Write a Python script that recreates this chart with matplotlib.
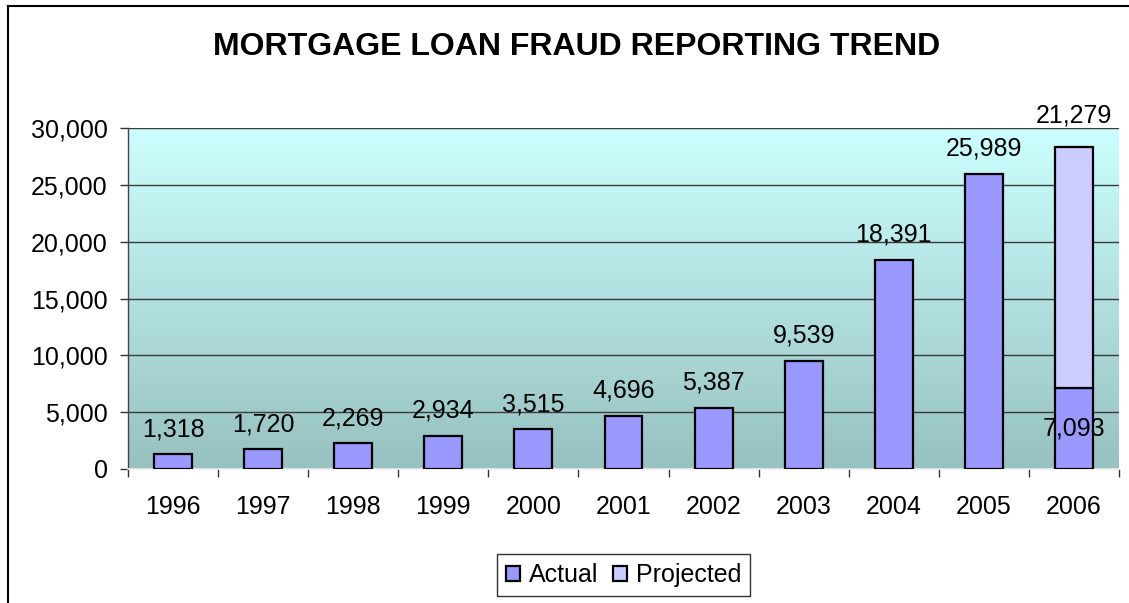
import matplotlib
matplotlib.use("Agg")
import matplotlib.pyplot as plt
import numpy as np
from matplotlib.lines import Line2D
from matplotlib.ticker import FuncFormatter, MultipleLocator, FixedLocator

plt.rcParams['font.family'] = ['Liberation Sans', 'DejaVu Sans']

years = ['1996', '1997', '1998', '1999', '2000', '2001',
         '2002', '2003', '2004', '2005', '2006']
actual = [1318, 1720, 2269, 2934, 3515, 4696, 5387, 9539, 18391, 25989, 7093]
projected = [0, 0, 0, 0, 0, 0, 0, 0, 0, 0, 21279]

W, H = 1129, 603
fig = plt.figure(figsize=(W / 100, H / 100), dpi=100)
fig.patch.set_facecolor('white')

# plot area in pixels: x 128..1119, y 128..469
ax = fig.add_axes([128 / W, 1 - 469 / H, (1119 - 128) / W, (469 - 128) / H])

x = np.arange(len(years))
actual = np.array(actual)
projected = np.array(projected)

ax.set_xlim(-0.5, len(years) - 0.5)
ax.set_ylim(0, 30000)

# gradient background
top = np.array([204, 255, 255]) / 255
bot = np.array([152, 193, 193]) / 255
t = np.linspace(0, 1, 256)[:, None]
grad = (top * (1 - t) + bot * t)[:, None, :]
ax.imshow(grad, extent=(-0.5, len(years) - 0.5, 0, 30000), aspect='auto',
          zorder=0, interpolation='bilinear', origin='upper')

ax.yaxis.set_major_locator(MultipleLocator(5000))
ax.grid(axis='y', color='#3a3a3a', lw=1.0, zorder=1)
ax.set_axisbelow(True)

bw = 0.42
ax.bar(x, actual, width=bw, color='#9999FF', edgecolor='black', lw=1.6,
       zorder=3, label='Actual')
m = projected > 0
ax.bar(x[m], projected[m], bottom=actual[m], width=bw, color='#CCCCFF',
       edgecolor='black', lw=1.6, zorder=3, label='Projected')

fmt = lambda v: f'{int(v):,}'
for i in range(len(years)):
    if projected[i] > 0:
        ax.annotate(fmt(projected[i]), (x[i], actual[i] + projected[i]),
                    xytext=(0, 22), textcoords='offset points',
                    ha='center', va='center', fontsize=18, zorder=5)
        ax.annotate(fmt(actual[i]), (x[i], actual[i] / 2),
                    ha='center', va='center', fontsize=18, zorder=5)
    else:
        ax.annotate(fmt(actual[i]), (x[i], actual[i]),
                    xytext=(0, 18), textcoords='offset points',
                    ha='center', va='center', fontsize=18, zorder=5)

ax.yaxis.set_major_formatter(FuncFormatter(lambda v, p: f'{int(v):,}'))
ax.tick_params(axis='y', direction='out', length=6, width=1.0,
               color='#333333', labelsize=18, pad=8.5)

ax.set_xticks(x)
ax.set_xticklabels(years)
ax.xaxis.set_minor_locator(FixedLocator(np.arange(-0.5, len(years), 1.0)))
ax.tick_params(axis='x', which='major', length=0, labelsize=18, pad=19)
ax.tick_params(axis='x', which='minor', direction='out', length=6,
               width=1.0, color='#333333')

for s in ['top', 'right']:
    ax.spines[s].set_visible(False)
ax.spines['left'].set_color('#444444')
ax.spines['left'].set_linewidth(1.0)
ax.spines['bottom'].set_color('#eeeeee')
ax.spines['bottom'].set_linewidth(1.2)

fig.text(577 / W, 1 - 47 / H, 'MORTGAGE LOAN FRAUD REPORTING TREND',
         ha='center', va='center', fontsize=23, weight='bold')

leg = fig.legend(loc='center', bbox_to_anchor=(623.5 / W, 1 - 575 / H),
                 ncol=2, fontsize=18, frameon=True, fancybox=False,
                 edgecolor='black', handlelength=0.55, handleheight=0.55,
                 handletextpad=0.35, columnspacing=0.6, borderpad=0.35,
                 borderaxespad=0)
leg.get_frame().set_linewidth(1.0)

# outer chart frame (cropped)
fig.add_artist(Line2D([8 / W, 8 / W], [0, 1 - 6 / H], color='black', lw=1.5,
                      transform=fig.transFigure))
fig.add_artist(Line2D([8 / W, 1], [1 - 6 / H, 1 - 6 / H], color='black',
                      lw=1.5, transform=fig.transFigure))

fig.savefig('out.png', dpi=100)
